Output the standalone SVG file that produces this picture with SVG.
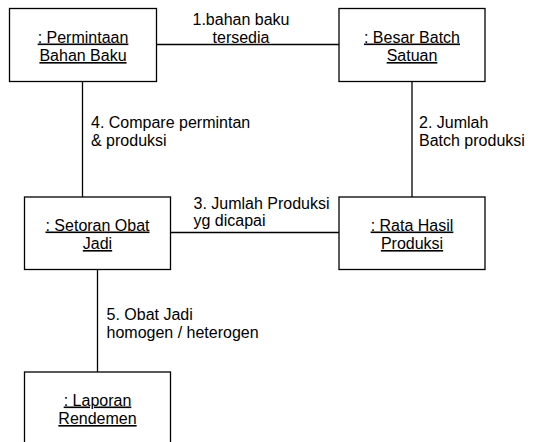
<svg xmlns="http://www.w3.org/2000/svg" width="539" height="442" viewBox="0 0 539 442">
<style>
.box{fill:#fff;stroke:#000;stroke-width:1.3}
.ln{stroke:#000;stroke-width:1.3;fill:none}
.nt{font-family:"Liberation Sans",Arial,sans-serif;font-size:16px;text-anchor:middle;text-decoration:underline;fill:#000}
.lb{font-family:"Liberation Sans",Arial,sans-serif;font-size:16px;fill:#000}
</style>
<rect width="539" height="442" fill="#fff"/>
<g id="connectors">
<line class="ln" x1="156" y1="44.5" x2="339" y2="44.5"/>
<line class="ln" x1="412" y1="81.5" x2="412" y2="197"/>
<line class="ln" x1="171" y1="232.5" x2="339" y2="232.5"/>
<line class="ln" x1="82.5" y1="81.5" x2="82.5" y2="197"/>
<line class="ln" x1="97.5" y1="269.5" x2="97.5" y2="372"/>
<text class="lb" x="241" y="25" text-anchor="middle">1.bahan baku</text>
<text class="lb" x="241" y="42.5" text-anchor="middle">tersedia</text>
<text class="lb" x="419" y="127.5">2. Jumlah</text>
<text class="lb" x="419" y="145.5">Batch produksi</text>
<text class="lb" x="193.5" y="208.5">3. Jumlah Produksi</text>
<text class="lb" x="193.5" y="225.5">yg dicapai</text>
<text class="lb" x="91" y="128">4. Compare permintan</text>
<text class="lb" x="91" y="146">&amp; produksi</text>
<text class="lb" x="106.5" y="320">5. Obat Jadi</text>
<text class="lb" x="106.5" y="337.5">homogen / heterogen</text>
</g>
<g id="n1">
<rect class="box" x="9.5" y="8.5" width="147" height="73"/>
<text class="nt" x="83" y="42.5">: Permintaan</text>
<text class="nt" x="83" y="61">Bahan Baku</text>
</g>
<g id="n2">
<rect class="box" x="339" y="8.5" width="146" height="73"/>
<text class="nt" x="412" y="42.5">: Besar Batch</text>
<text class="nt" x="412" y="61">Satuan</text>
</g>
<g id="n3">
<rect class="box" x="24.5" y="197" width="146" height="72.5"/>
<text class="nt" x="97.5" y="230.5">: Setoran Obat</text>
<text class="nt" x="97.5" y="249">Jadi</text>
</g>
<g id="n4">
<rect class="box" x="339" y="197" width="146" height="72.5"/>
<text class="nt" x="412" y="230.5">: Rata Hasil</text>
<text class="nt" x="412" y="249">Produksi</text>
</g>
<g id="n5">
<rect class="box" x="24.5" y="372" width="146" height="73"/>
<text class="nt" x="97.5" y="405.5">: Laporan</text>
<text class="nt" x="97.5" y="424">Rendemen</text>
</g>
</svg>
